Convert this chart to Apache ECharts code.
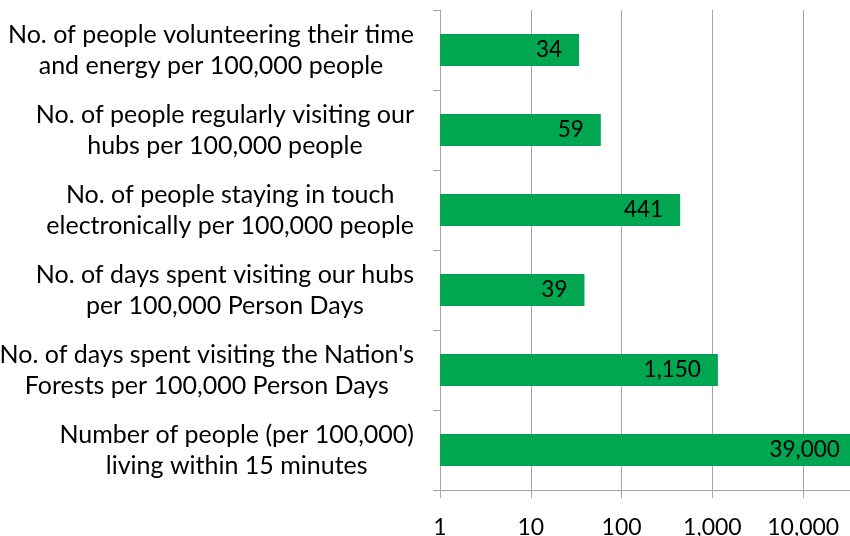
<!DOCTYPE html>
<html>
<head>
<meta charset="utf-8">
<script src="https://cdn.jsdelivr.net/npm/echarts@6/dist/echarts.min.js"></script>
<style>
  html, body { margin: 0; padding: 0; background: #fff; overflow: hidden; }
  #chart { width: 850px; height: 536px; }
</style>
</head>
<body>
<div id="chart"></div>
<script>
// categories, top to bottom (line breaks as in the chart)
var categories = [
  "No. of people volunteering their time\nand energy per 100,000 people",
  "No. of people regularly visiting our\nhubs per 100,000 people",
  "No. of people staying in touch\nelectronically per 100,000 people",
  "No. of days spent visiting our hubs\nper 100,000 Person Days",
  "No. of days spent visiting the Nation's\nForests per 100,000 Person Days",
  "Number of people (per 100,000)\nliving within 15 minutes"
];
var values = [34, 59, 441, 39, 1150, 39000];
// x tick labels, by power of ten
var tickLabels = ["1", "10", "100", "1,000", "10,000", "100,000"];

var FONT = "Lato";
var chart = echarts.init(document.getElementById('chart'));

chart.setOption({
  animation: false,
  // the original is cropped: the plot runs on past the right edge
  grid: { left: 440, right: -44, top: 10, bottom: 46, outerBoundsMode: 'none', containLabel: false },
  xAxis: {
    type: 'log',
    logBase: 10,
    min: 1,
    max: 100000,
    axisLine: { show: true, lineStyle: { color: '#a6a6a6', width: 1 } },
    axisTick: { show: true, length: 8, lineStyle: { color: '#a6a6a6' } },
    splitLine: { show: true, lineStyle: { color: '#a6a6a6', width: 1 } },
    axisLabel: {
      fontFamily: FONT, fontSize: 23, color: '#000', margin: 26,
      formatter: function (v) {
        var e = Math.round(Math.log(Number(v)) / Math.LN10);
        return tickLabels[e] || '';
      }
    }
  },
  yAxis: {
    type: 'category',
    inverse: true,
    data: categories,
    axisLine: { show: true, lineStyle: { color: '#a6a6a6', width: 1 } },
    axisTick: { show: true, length: 7, lineStyle: { color: '#a6a6a6' } },
    axisLabel: {
      margin: 26,
      align: 'right',
      formatter: function (v) {
        return v.split('\n').map(function (s) { return '{c|' + s + '}'; }).join('\n');
      },
      rich: {
        c: { align: 'center', fontFamily: FONT, fontSize: 25, color: '#000', lineHeight: 31 }
      }
    }
  },
  series: [{
    type: 'bar',
    data: values,
    barWidth: 32,
    itemStyle: { color: '#00A650' },
    label: {
      show: true,
      position: 'insideRight',
      distance: 17,
      fontFamily: FONT, fontSize: 22.5, color: '#000',
      formatter: function (p) { return p.value.toLocaleString('en-US'); }
    }
  }]
});
</script>
</body>
</html>
